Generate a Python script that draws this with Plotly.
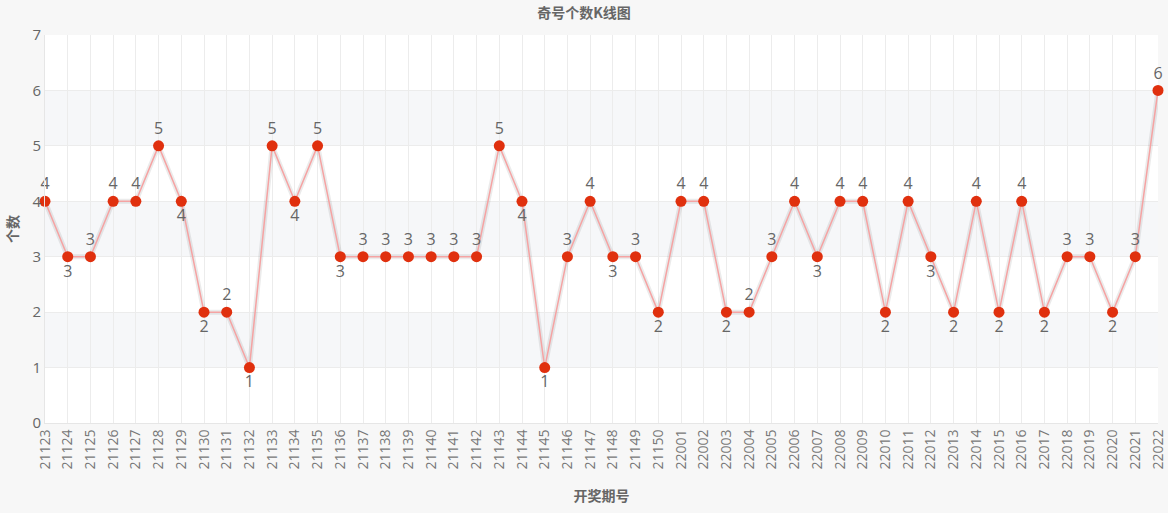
import plotly.graph_objects as go

periods = ["21123","21124","21125","21126","21127","21128","21129","21130","21131","21132",
           "21133","21134","21135","21136","21137","21138","21139","21140","21141","21142",
           "21143","21144","21145","21146","21147","21148","21149","21150",
           "22001","22002","22003","22004","22005","22006","22007","22008","22009","22010",
           "22011","22012","22013","22014","22015","22016","22017","22018","22019","22020",
           "22021","22022"]
odd_counts = [4,3,3,4,4,5,4,2,2,1,
              5,4,5,3,3,3,3,3,3,3,
              5,4,1,3,4,3,3,2,
              4,4,2,2,3,4,3,4,4,2,
              4,3,2,4,2,4,2,3,3,2,
              3,6]
y_ticks = [0,1,2,3,4,5,6,7]

positions = []
for i, v in enumerate(odd_counts):
    if i > 0 and v < odd_counts[i-1]:
        positions.append("bottom center")
    else:
        positions.append("top center")

fig = go.Figure()
# shadow
fig.add_trace(go.Scatter(x=periods, y=odd_counts, mode="lines",
                         line=dict(color="rgba(0,0,0,0.08)", width=5),
                         hoverinfo="skip", showlegend=False, cliponaxis=False))
fig.add_trace(go.Scatter(x=periods, y=odd_counts, mode="lines+markers+text",
                         line=dict(color="#f5a3a3", width=1.5),
                         marker=dict(color="#e0300e", size=11),
                         text=[str(v) for v in odd_counts], textposition=positions,
                         textfont=dict(size=16, color="#666666", family="Open Sans"),
                         showlegend=False, cliponaxis=False))

shapes = []
for k in range(len(y_ticks) - 1):
    if k % 2 == 1:
        shapes.append(dict(type="rect", xref="paper", yref="y", x0=0, x1=1,
                           y0=y_ticks[k], y1=y_ticks[k+1], fillcolor="#f6f7f9",
                           line=dict(width=0), layer="below"))

fig.update_layout(
    width=1168, height=513,
    margin=dict(l=45, r=10, t=35, b=90, autoexpand=False),
    paper_bgcolor="#f7f7f7", plot_bgcolor="#ffffff",
    shapes=shapes,
    font=dict(family="Open Sans, Noto Sans CJK SC", color="#666666"),
    title=dict(text="<b>奇号个数K线图</b>", x=0.5, xanchor="center", y=0.975, yanchor="middle",
               font=dict(size=14, color="#666666", family="Noto Sans CJK SC")),
    xaxis=dict(type="category", range=[0, len(periods) - 1], tickangle=-90,
               showgrid=True, gridcolor="#ececec", gridwidth=1, automargin=False,
               showline=True, linecolor="#e6e6e6", ticks="",
               tickfont=dict(size=14, color="#777777"),
               title=dict(text="<b>开奖期号</b>", standoff=22,
                          font=dict(size=14, color="#666666", family="Noto Sans CJK SC"))),
    yaxis=dict(range=[0, 7], tickvals=y_ticks, showgrid=True, gridcolor="#ececec",
               zeroline=False, showline=True, linecolor="#e6e6e6", ticks="", automargin=False,
               tickfont=dict(size=15, color="#666666"),
               title=dict(text="<b>个数</b>", standoff=10,
                          font=dict(size=14, color="#666666", family="Noto Sans CJK SC"))),
)

fig.write_html("out.html")
